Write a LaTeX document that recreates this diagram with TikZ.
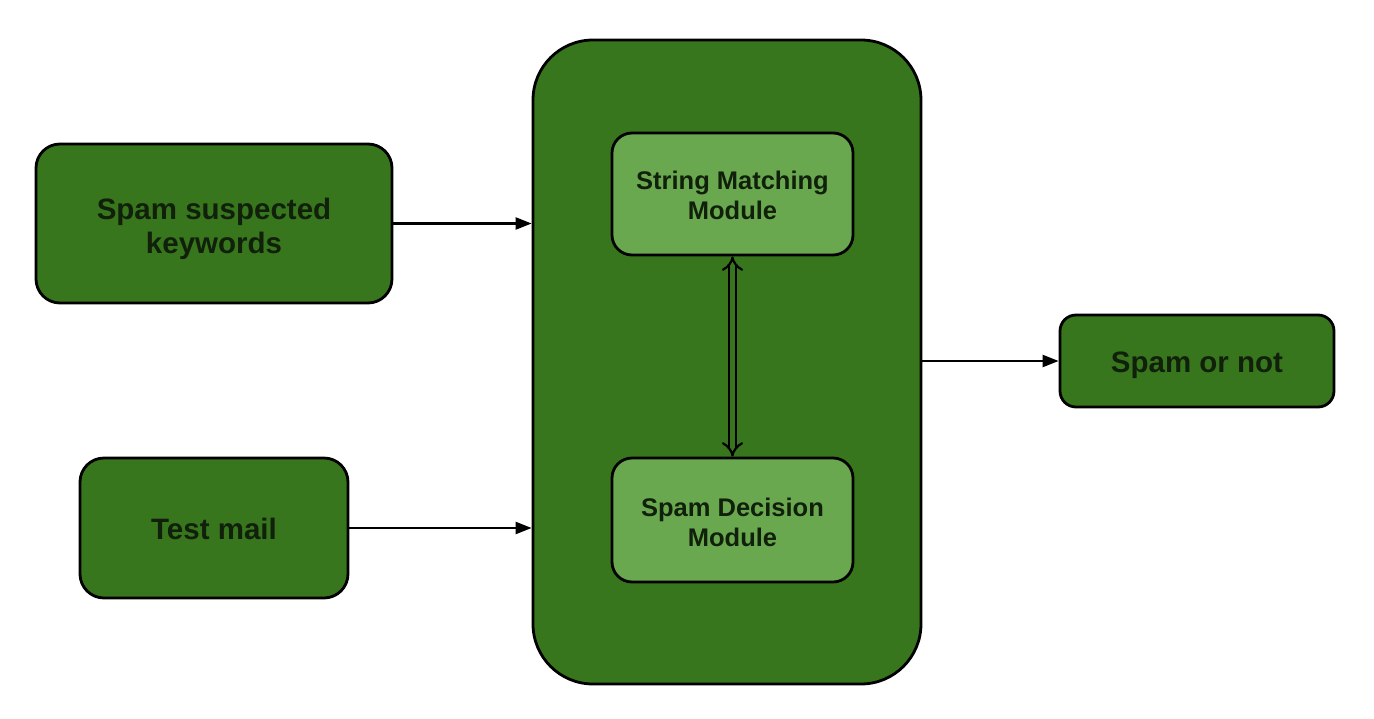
\documentclass[tikz,border=0pt]{standalone}
\usepackage{fontspec}
\setmainfont{Liberation Sans}
\usetikzlibrary{arrows.meta}
\definecolor{dgreen}{HTML}{38761D}
\definecolor{lgreen}{HTML}{6AA84F}
\definecolor{tcol}{HTML}{10200A}
\tikzset{
  box/.style={draw=black, line width=2.8pt, fill=dgreen, rounded corners=24pt, inner sep=0pt},
  inbox/.style={draw=black, line width=2.8pt, fill=lgreen, rounded corners=20pt, inner sep=0pt},
  bigtxt/.style={align=center, text=tcol, font=\bfseries\fontsize{29.5}{34}\selectfont, inner sep=0pt},
  smalltxt/.style={align=center, text=tcol, font=\bfseries\fontsize{25.5}{30}\selectfont, inner sep=0pt},
  conn/.style={draw=black, line width=2.2pt, -{Triangle[length=16pt,width=12pt]}},
  dbl/.style={draw=black, line width=2.2pt, double=dgreen, double distance=5pt,
    {Implies[length=8pt]}-{Implies[length=8pt]}}
}
\begin{document}
\begin{tikzpicture}[x=1pt,y=-1pt]
\useasboundingbox (0,0) rectangle (1374,718);
\fill[white] (0,0) rectangle (1374,718);
\node[box, minimum width=356pt, minimum height=159pt] (kw) at (214,223.5) {};
\node[box, minimum width=268pt, minimum height=140pt] (tm) at (214,528) {};
\node[box, minimum width=388pt, minimum height=644pt, rounded corners=60pt] (core) at (727,362) {};
\node[inbox, minimum width=241pt, minimum height=122pt] (sm) at (732.5,194) {};
\node[inbox, minimum width=241pt, minimum height=124pt] (sd) at (732.5,520) {};
\node[box, minimum width=274pt, minimum height=92pt, rounded corners=16pt] (out) at (1197,361) {};
\node[bigtxt] (kwt) at ([yshift=-5pt]kw.center) {Spam suspected\\keywords};
\node[bigtxt] (tmt) at ([yshift=-1pt]tm.center) {Test mail};
\node[bigtxt] (outt) at ([yshift=-4pt]out.center) {Spam or not};
\node[smalltxt] (smt) at ([yshift=-1.5pt]sm.center) {String Matching\\Module};
\node[smalltxt] (sdt) at ([yshift=-2pt]sd.center) {Spam Decision\\Module};
\draw[conn] (kw.east) -- (kw.east -| core.west);
\draw[conn] (tm.east) -- (tm.east -| core.west);
\draw[conn] (core.east |- out.west) -- (out.west);
\draw[dbl] (sm.south) -- (sd.north);
\end{tikzpicture}
\end{document}
